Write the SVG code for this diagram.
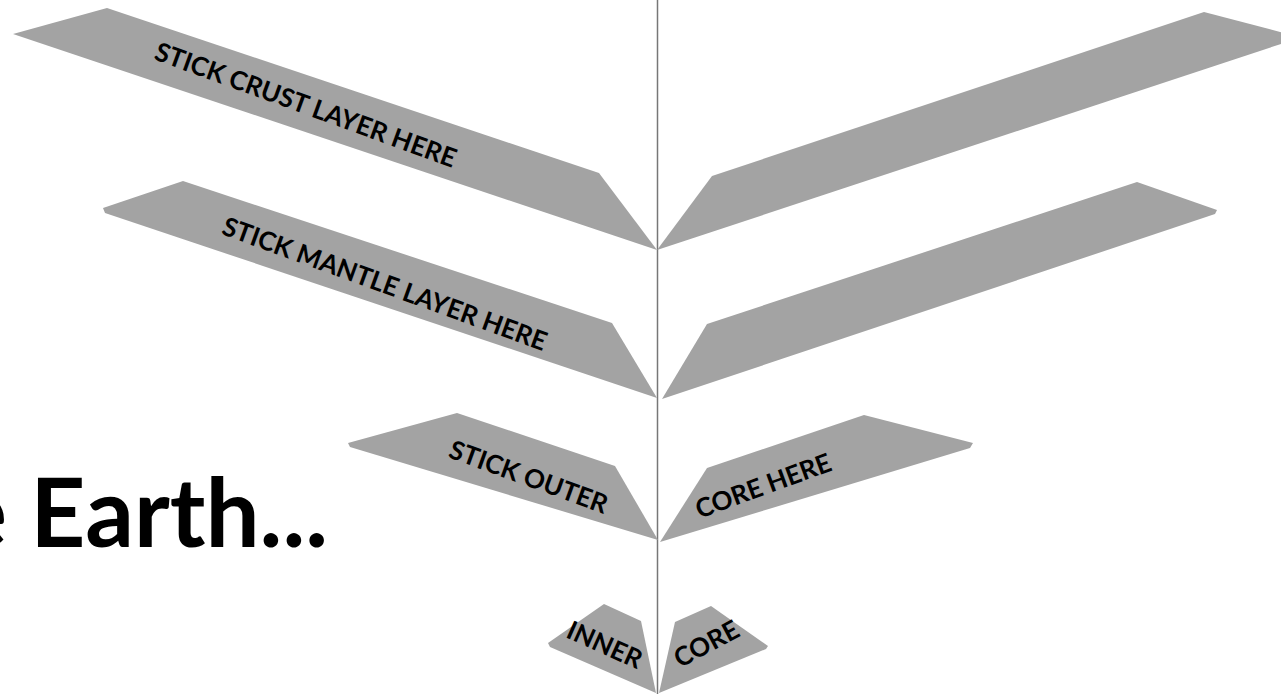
<svg xmlns="http://www.w3.org/2000/svg" width="1281" height="694" viewBox="0 0 1281 694">
<style>
.band{fill:#a3a3a3;stroke:none}
.lbl{font-family:Lato,"Open Sans","Liberation Sans",sans-serif;font-weight:700;font-size:26px;fill:#000;text-anchor:middle;dominant-baseline:central}
.title{font-family:Lato,"Open Sans","Liberation Sans",sans-serif;font-weight:700;font-size:96px;fill:#000;text-anchor:end}
.axis{stroke:#777;stroke-width:1.5;fill:none}
</style>
<rect width="1281" height="694" fill="#fff"/>
<g id="title"><text class="title" x="328" y="547">e Earth...</text></g>
<g id="connectors"><line class="axis" x1="657.5" y1="0" x2="657.5" y2="694"/></g>
<g id="crust-left"><polygon class="band" points="13,34 107,8 599,173 657,250"/><text class="lbl" transform="translate(306,104) rotate(20)">STICK CRUST LAYER HERE</text></g>
<g id="crust-right"><polygon class="band" points="657,250 712,176 1204,12 1284,33 1284,43"/></g>
<g id="mantle-left"><polygon class="band" points="103,208 183,181 612,323 657,398 105,213"/><text class="lbl" transform="translate(385,283) rotate(20)">STICK MANTLE LAYER HERE</text></g>
<g id="mantle-right"><polygon class="band" points="662,399 707,324 1137,182 1217,210 1215,214"/></g>
<g id="outer-left"><polygon class="band" points="348,443 457,413 615,466 658,540 350,447"/><text class="lbl" transform="translate(529,476) rotate(20)">STICK OUTER</text></g>
<g id="outer-right"><polygon class="band" points="660,542 707,468 864,415 973,443 970,448"/><text class="lbl" transform="translate(763,485) rotate(-20)">CORE HERE</text></g>
<g id="inner-left"><polygon class="band" points="548,643 604,604 641,621 656,693 550,647"/><text class="lbl" transform="translate(605,644) rotate(24)">INNER</text></g>
<g id="inner-right"><polygon class="band" points="659,693 675,622 711,606 768,646 766,649"/><text class="lbl" transform="translate(706,643) rotate(-28)">CORE</text></g>
</svg>
